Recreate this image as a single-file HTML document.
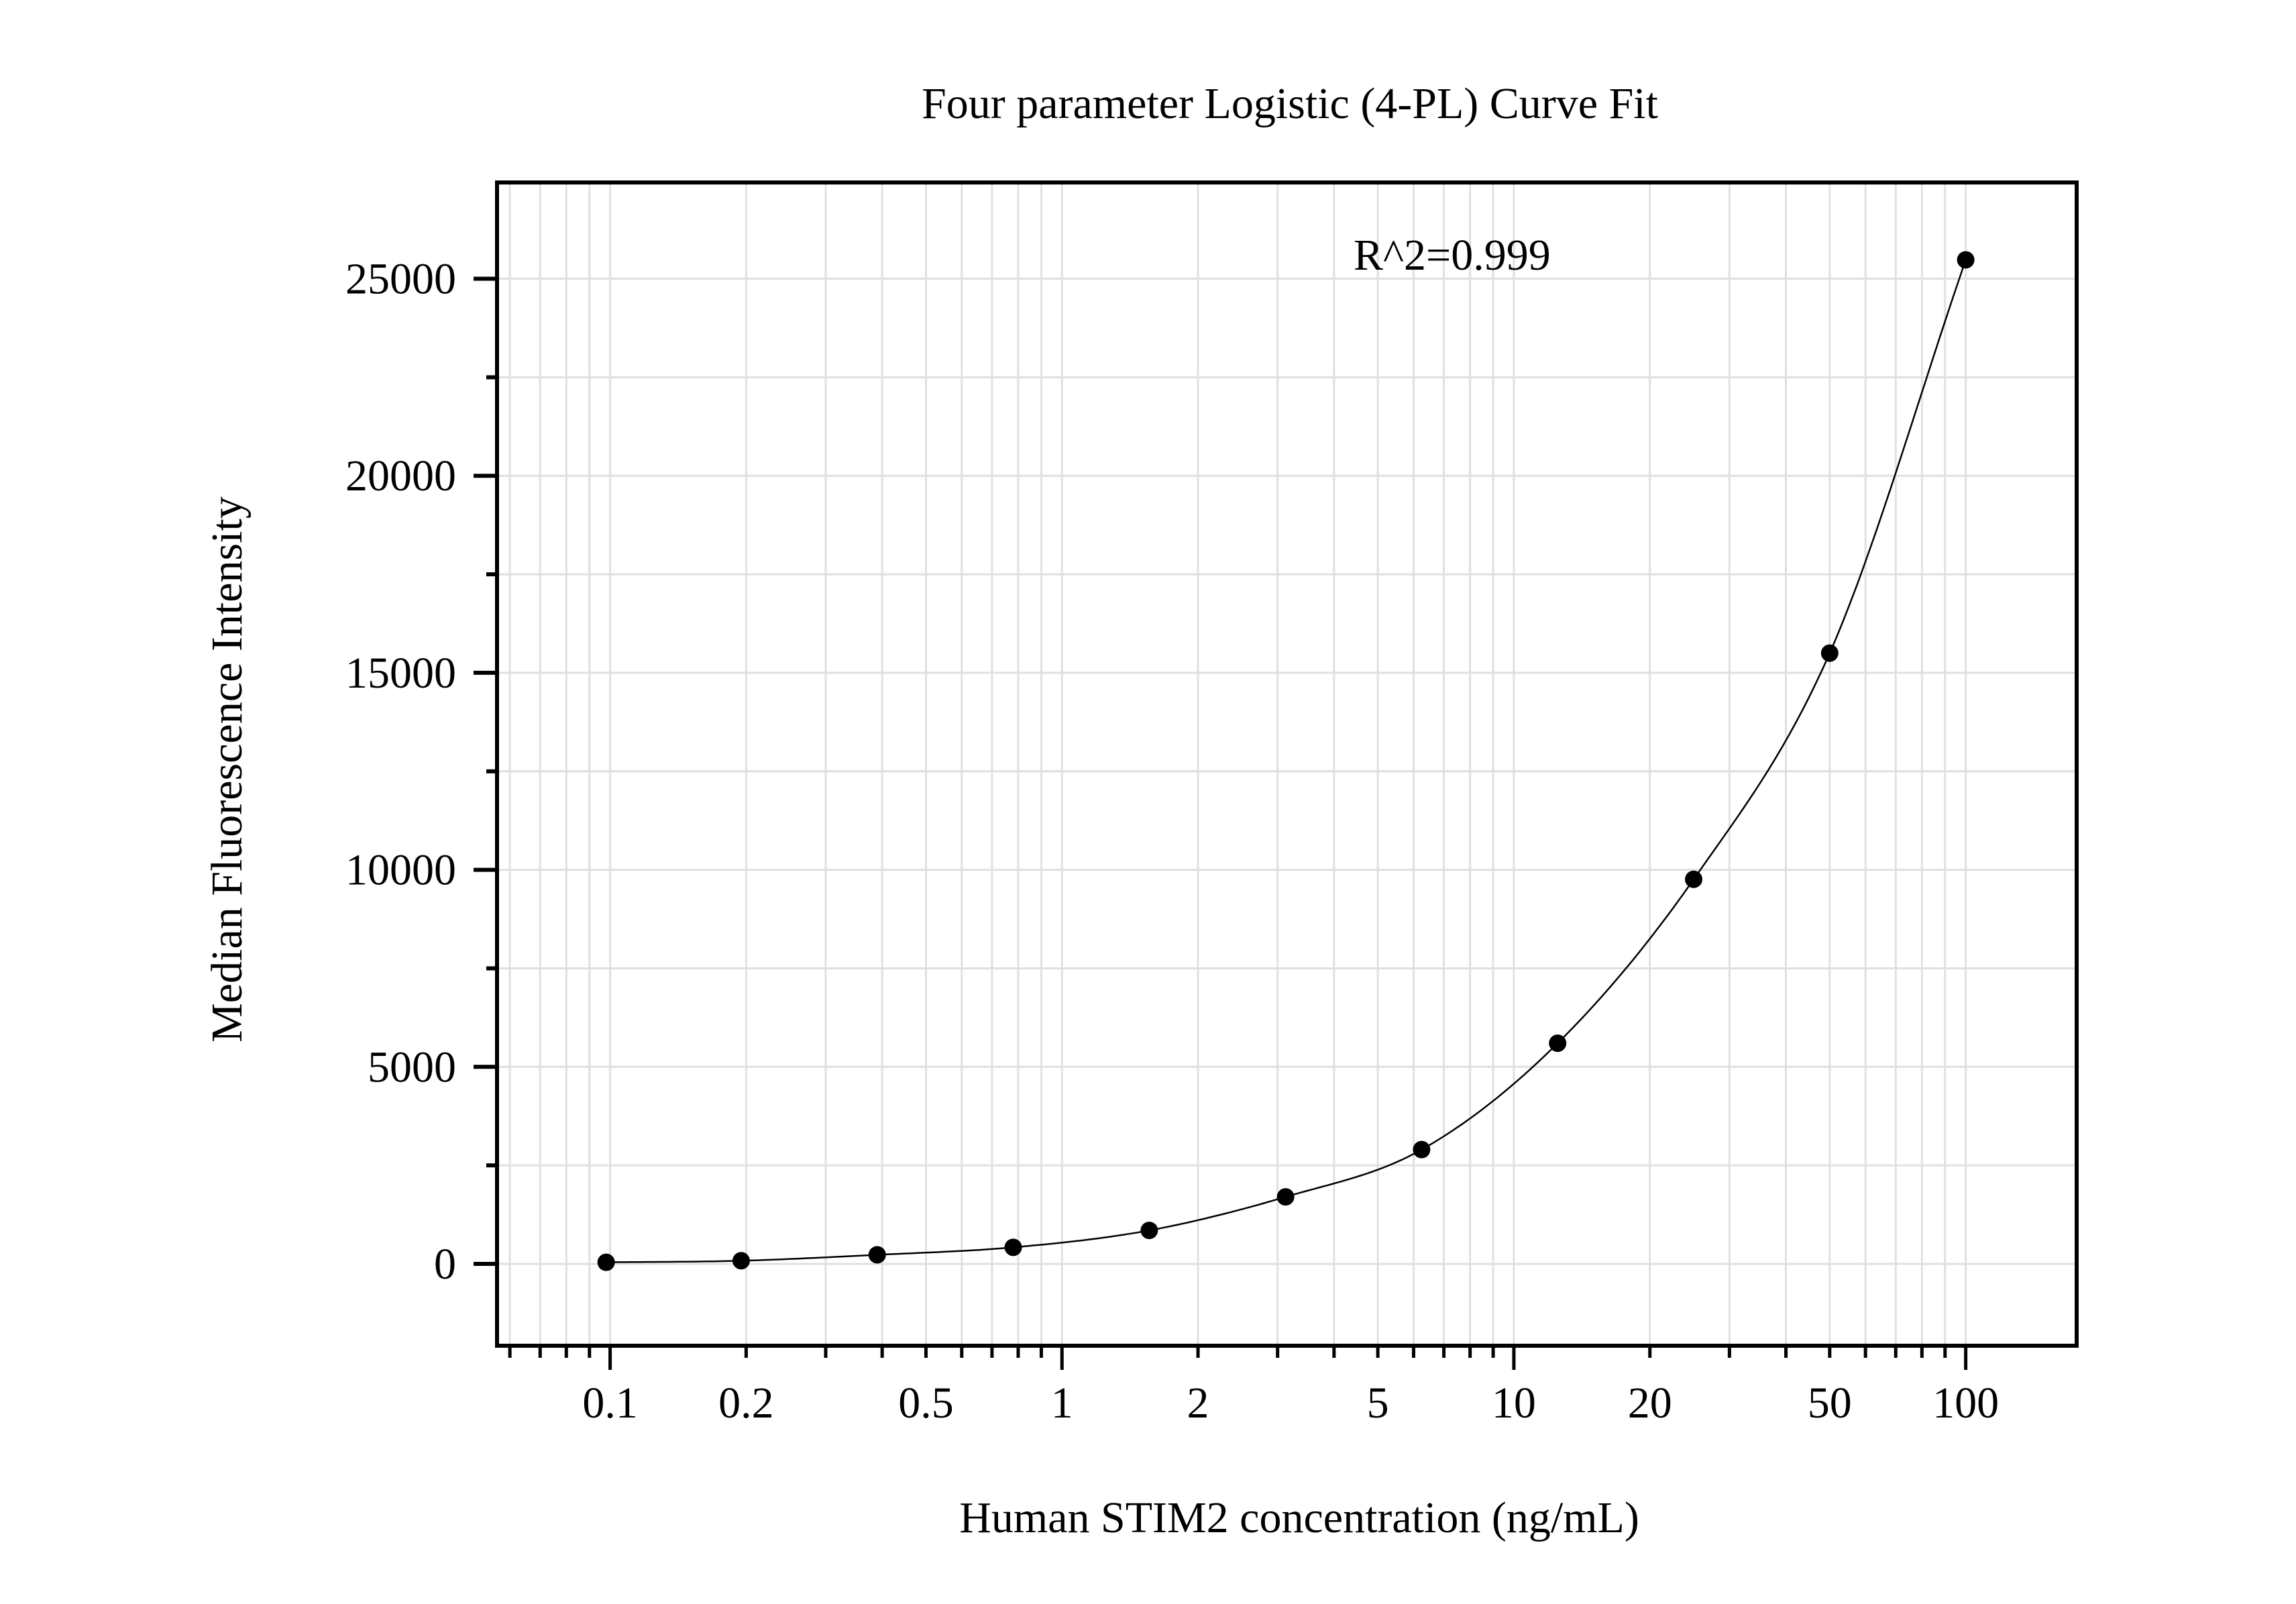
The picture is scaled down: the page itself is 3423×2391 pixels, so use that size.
<!DOCTYPE html>
<html><head><meta charset="utf-8"><style>
html,body{margin:0;padding:0;background:#fff;}
svg{display:block;font-family:"Liberation Serif",serif;}
</style></head><body>
<svg id="chart" width="3423" height="2391" viewBox="0 0 3423 2391" xmlns="http://www.w3.org/2000/svg">
<rect width="3423" height="2391" fill="#fff"/>
<g id="grid"></g>
<g id="curve"></g>
<g id="points"></g>
<g id="axes"></g>
<text x="1923" y="176" font-size="66" text-anchor="middle">Four parameter Logistic (4-PL) Curve Fit</text>
<text x="2018" y="402" font-size="66">R^2=0.999</text>
<text x="0" y="0" font-size="66" text-anchor="middle" transform="translate(360,1147) rotate(-90)">Median Fluorescence Intensity</text>
<text x="1937" y="2284" font-size="66" text-anchor="middle">Human STIM2 concentration (ng/mL)</text>
</svg>
<script>
const concentrations = [0.098, 0.195, 0.39, 0.78, 1.56, 3.125, 6.25, 12.5, 25, 50, 100];
const mfiValues = [40, 80, 230, 420, 850, 1700, 2900, 5600, 9760, 15500, 25480];
const xTickLabels = ["0.1","0.2","0.5","1","2","5","10","20","50","100"];
const xTickValues = [0.1,0.2,0.5,1,2,5,10,20,50,100];
const yTickValues = [0,5000,10000,15000,20000,25000];

const NS="http://www.w3.org/2000/svg";
const L=741, R=3096, T=272, B=2006;
const xMin=Math.log10(0.0562), xMax=Math.log10(176);
const yMin=-2077, yMax=27444;
function xs(v){return L+(Math.log10(v)-xMin)/(xMax-xMin)*(R-L);}
function ys(v){return B-(v-yMin)/(yMax-yMin)*(B-T);}
function mk(tag,attrs,parent){const e=document.createElementNS(NS,tag);for(const k in attrs)e.setAttribute(k,attrs[k]);parent.appendChild(e);return e;}

const grid=document.getElementById('grid'), axes=document.getElementById('axes');
const xMinor=[];
for(let d=-2;d<=2;d++)for(let m=1;m<=9;m++){const v=m*Math.pow(10,d);if(v>=0.0562&&v<=176)xMinor.push(v);}
xMinor.forEach(v=>{
  const x=xs(v);
  const g=mk('line',{x1:x,x2:x,y1:T,y2:B,stroke:'#e0e0e0','stroke-width':3},grid);
  
  
  const major=Math.abs(Math.log10(v)-Math.round(Math.log10(v)))<1e-9;
  const t=mk('line',{x1:x,x2:x,y1:B,y2:B+(major?36:18),stroke:'#000','stroke-width':5},axes);
  
  
});
for(let v=-2500;v<=27500;v+=2500){
  if(v<yMin||v>yMax)continue;
  const y=ys(v);
  const g=mk('line',{x1:L,x2:R,y1:y,y2:y,stroke:'#e0e0e0','stroke-width':3},grid);
  
  
  const major=v%5000===0;
  const t=mk('line',{x1:L-(major?35:16),x2:L,y1:y,y2:y,stroke:'#000','stroke-width':6},axes);
  
  
}
yTickValues.forEach(v=>{
  const t=mk('text',{x:680,y:ys(v)+22,'font-size':66,'text-anchor':'end'},axes);
  t.textContent=String(v);
  
  
});
xTickValues.forEach((v,i)=>{
  const t=mk('text',{x:xs(v),y:2113,'font-size':66,'text-anchor':'middle'},axes);
  t.textContent=xTickLabels[i];
  
  
});
const frame=mk('rect',{x:L,y:T,width:R-L,height:B-T,fill:'none',stroke:'#000','stroke-width':6},axes);



const px=concentrations.map(c=>Math.log10(c)), py=mfiValues.slice();
const n=px.length, dl=[], m=[];
for(let i=0;i<n-1;i++)dl.push((py[i+1]-py[i])/(px[i+1]-px[i]));
m[0]=dl[0];m[n-1]=dl[n-2];
for(let i=1;i<n-1;i++)m[i]=(dl[i-1]+dl[i])/2;
let d='';
for(let i=0;i<n-1;i++){
  const h=px[i+1]-px[i];
  for(let s=0;s<=20;s++){
    const t=s/20,t2=t*t,t3=t2*t;
    const y=(2*t3-3*t2+1)*py[i]+(t3-2*t2+t)*h*m[i]+(-2*t3+3*t2)*py[i+1]+(t3-t2)*h*m[i+1];
    const X=xs(Math.pow(10,px[i]+t*h)),Y=ys(y);
    d+=(d?'L':'M')+X.toFixed(1)+','+Y.toFixed(1);
  }
}
const cp=mk('path',{d:d,fill:'none',stroke:'#000','stroke-width':2.5},document.getElementById('curve'));


const pts=document.getElementById('points');
concentrations.forEach((c,i)=>{
  const p=mk('circle',{cx:xs(c),cy:ys(mfiValues[i]),r:13,fill:'#000'},pts);
  
  
});
</script>
</body></html>
